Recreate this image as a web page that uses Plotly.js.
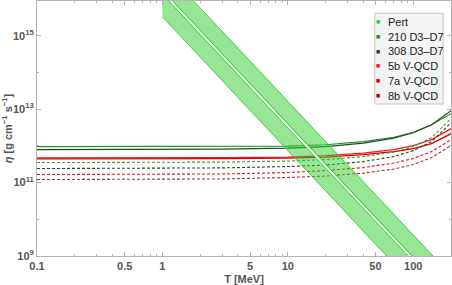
<!DOCTYPE html>
<html>
<head>
<meta charset="utf-8">
<script src="https://cdn.plot.ly/plotly-3.0.1.min.js"></script>
<style>html,body{margin:0;padding:0;background:#fff}#chart{width:452px;height:285px}</style>
</head>
<body>
<div id="chart"></div>
<script>
// Temperature grid (MeV) for the holographic curves
var T = [0.1, 0.3, 1, 3, 10, 20, 40, 70, 100, 140, 200];

// D3-D7 curves
var d210Solid  = [9.57e11, 9.57e11, 9.57e11, 9.57e11, 9.9e11, 1.08e12, 1.31e12, 1.73e12, 2.37e12, 3.79e12, 7.55e12];
var d308Solid  = [7.93e11, 7.93e11, 8.03e11, 8.19e11, 8.71e11, 9.57e11, 1.19e12, 1.63e12, 2.30e12, 3.79e12, 9.1e12];
var d210Dash   = [3.52e11, 3.52e11, 3.56e11, 3.63e11, 3.87e11, 4.25e11, 5.12e11, 6.79e11, 9.57e11, 1.68e12, 5.52e12];
var d308Dash   = [2.42e11, 2.42e11, 2.46e11, 2.52e11, 2.74e11, 3.01e11, 3.74e11, 5.12e11, 7.45e11, 1.31e12, 4.30e12];

// V-QCD curves
var v5bSolid   = [4.72e11, 4.72e11, 4.75e11, 4.81e11, 4.96e11, 5.45e11, 6.37e11, 7.93e11, 1.02e12, 1.48e12, 2.95e12];
var v7aSolid   = [4.44e11, 4.44e11, 4.46e11, 4.52e11, 4.66e11, 4.96e11, 5.81e11, 7.0e11, 8.45e11, 1.16e12, 2.16e12];
var v7aDash    = [1.66e11, 1.66e11, 1.68e11, 1.72e11, 1.88e11, 2.13e11, 2.57e11, 3.41e11, 4.52e11, 7.0e11, 1.48e12];
var v8bDash    = [1.21e11, 1.21e11, 1.23e11, 1.26e11, 1.38e11, 1.51e11, 1.82e11, 2.34e11, 3.10e11, 4.81e11, 1.02e12];

// Perturbative band
var Tp        = [1, 2, 5, 10, 20, 50, 100, 200];
var pertMid   = [1.55e16, 1.23e15, 4.4e13, 3.5e12, 2.8e11, 1.0e10, 8.1e8, 6.5e7];
var pertUpper = [7.2e16, 5.8e15, 2.0e14, 1.7e13, 1.3e12, 4.7e10, 3.8e9, 3.0e8];
var pertLower = [3.3e15, 2.6e14, 9.3e12, 7.6e11, 6.0e10, 2.1e9, 1.7e8, 1.4e7];

// Legend
var legendNames  = ["Pert", "210 D3\u2013D7", "308 D3\u2013D7", "5b V-QCD", "7a V-QCD", "8b V-QCD"];
var legendColors = ["#33cc33", "#228b22", "#1c4f1c", "#ff1a1a", "#e00000", "#a80000"];

// Ticks
var xTickVals = [0.1, 0.5, 1, 5, 10, 50, 100];
var xTickText = ["0.1", "0.5", "1", "5", "10", "50", "100"];
var xMinor = [0.2,0.3,0.4,0.6,0.7,0.8,0.9,2,3,4,6,7,8,9,20,30,40,60,70,80,90,200];
var yTickVals = [1e9, 1e11, 1e13, 1e15];
var yTickText = ["10<sup>9</sup>", "10<sup>11</sup>", "10<sup>13</sup>", "10<sup>15</sup>"];
var yMinor = [1e10, 1e12, 1e14];

function line(y, color, dash, width) {
  return {x: T, y: y, mode: "lines", type: "scatter", hoverinfo: "skip",
          line: {color: color, width: width || 1.1, dash: dash || "solid"}, showlegend: false};
}

var traces = [
  line(d210Solid, "#2a8f2a"),
  line(d308Solid, "#1c4f1c"),
  line(v5bSolid, "#ff1a1a", "solid", 1.4),
  line(v7aSolid, "#d80000", "solid", 1.4),
  line(d210Dash, "#3a9a3a", "3px,2px", 1.1),
  line(d308Dash, "#1c4f1c", "3px,2px", 1.1),
  line(v7aDash, "#ee1010", "3px,2px", 1.1),
  line(v8bDash, "#b03030", "3px,2px", 1.1),
  {x: Tp, y: pertLower, mode: "lines", type: "scatter", hoverinfo: "skip", showlegend: false,
   line: {color: "#34c834", width: 0.9}},
  {x: Tp, y: pertUpper, mode: "lines", type: "scatter", hoverinfo: "skip", showlegend: false,
   fill: "tonexty", fillcolor: "rgba(45,205,45,0.5)", line: {color: "#34c834", width: 0.9}},
  {x: Tp, y: pertMid, mode: "lines", type: "scatter", hoverinfo: "skip", showlegend: false,
   line: {color: "#34c834", width: 3.6}},
  {x: Tp, y: pertMid, mode: "lines", type: "scatter", hoverinfo: "skip", showlegend: false,
   line: {color: "#ffffff", width: 2}}
];

var frameColor = "#b4b4b4";
var tickFont = {family: "Liberation Sans, Arial, sans-serif", size: 11, color: "#555", weight: "bold"};

// legend box in paper coords
var lgX0 = 0.816, lgX1 = 0.981, lgY0 = 0.596, lgY1 = 0.952;
var rowY = [0.9187, 0.8598, 0.8025, 0.746, 0.687, 0.628];
var annotations = [];
var shapes = [{type: "rect", xref: "paper", yref: "paper", x0: lgX0, x1: lgX1, y0: lgY0, y1: lgY1,
               fillcolor: "#f3f3f3", line: {color: "#c4c4c4", width: 1}, layer: "above"}];
for (var i = 0; i < legendNames.length; i++) {
  annotations.push({xref: "paper", yref: "paper", x: 0.8244, y: rowY[i], xanchor: "center", yanchor: "middle",
    text: "\u25A0", showarrow: false, font: {size: 4.5, color: legendColors[i], family: "DejaVu Sans"}});
  annotations.push({xref: "paper", yref: "paper", x: 0.842, y: rowY[i], xanchor: "left", yanchor: "middle",
    text: legendNames[i], showarrow: false, font: {size: 11, color: "#222", family: "Liberation Sans, Arial, sans-serif"}});
}

var layout = {
  width: 452, height: 285,
  margin: {l: 37, r: 1, t: 1, b: 29, pad: 0},
  paper_bgcolor: "#fff", plot_bgcolor: "#fff",
  showlegend: false,
  xaxis: {type: "log", range: [-1, Math.log10(200)], showgrid: false, zeroline: false,
          showline: true, linecolor: frameColor, linewidth: 1, mirror: "ticks",
          ticks: "inside", ticklen: 4, tickcolor: frameColor, tickmode: "array",
          tickvals: xTickVals, ticktext: xTickText, tickfont: tickFont,
          minor: {tickmode: "array", tickvals: xMinor, ticks: "inside", ticklen: 2, tickcolor: frameColor, showgrid: false},
          title: {text: "T [MeV]", font: {family: "Liberation Sans, Arial, sans-serif", size: 11, color: "#555", weight: "bold"}, standoff: 5}},
  yaxis: {type: "log", range: [9, 15.95], showgrid: false, zeroline: false,
          showline: true, linecolor: frameColor, linewidth: 1, mirror: "ticks",
          ticks: "inside", ticklen: 4, tickcolor: frameColor, tickmode: "array",
          tickvals: yTickVals, ticktext: yTickText, tickfont: tickFont,
          minor: {tickmode: "array", tickvals: yMinor, ticks: "inside", ticklen: 2, tickcolor: frameColor, showgrid: false},
          title: {text: "<i>\u03B7</i> [g cm<sup>\u22121</sup> s<sup>\u22121</sup>]", font: {family: "Liberation Sans, Arial, sans-serif", size: 11, color: "#555", weight: "bold"}, standoff: 4}},
  shapes: shapes,
  annotations: annotations
};

Plotly.newPlot("chart", traces, layout, {staticPlot: true, displayModeBar: false});
</script>
</body>
</html>
